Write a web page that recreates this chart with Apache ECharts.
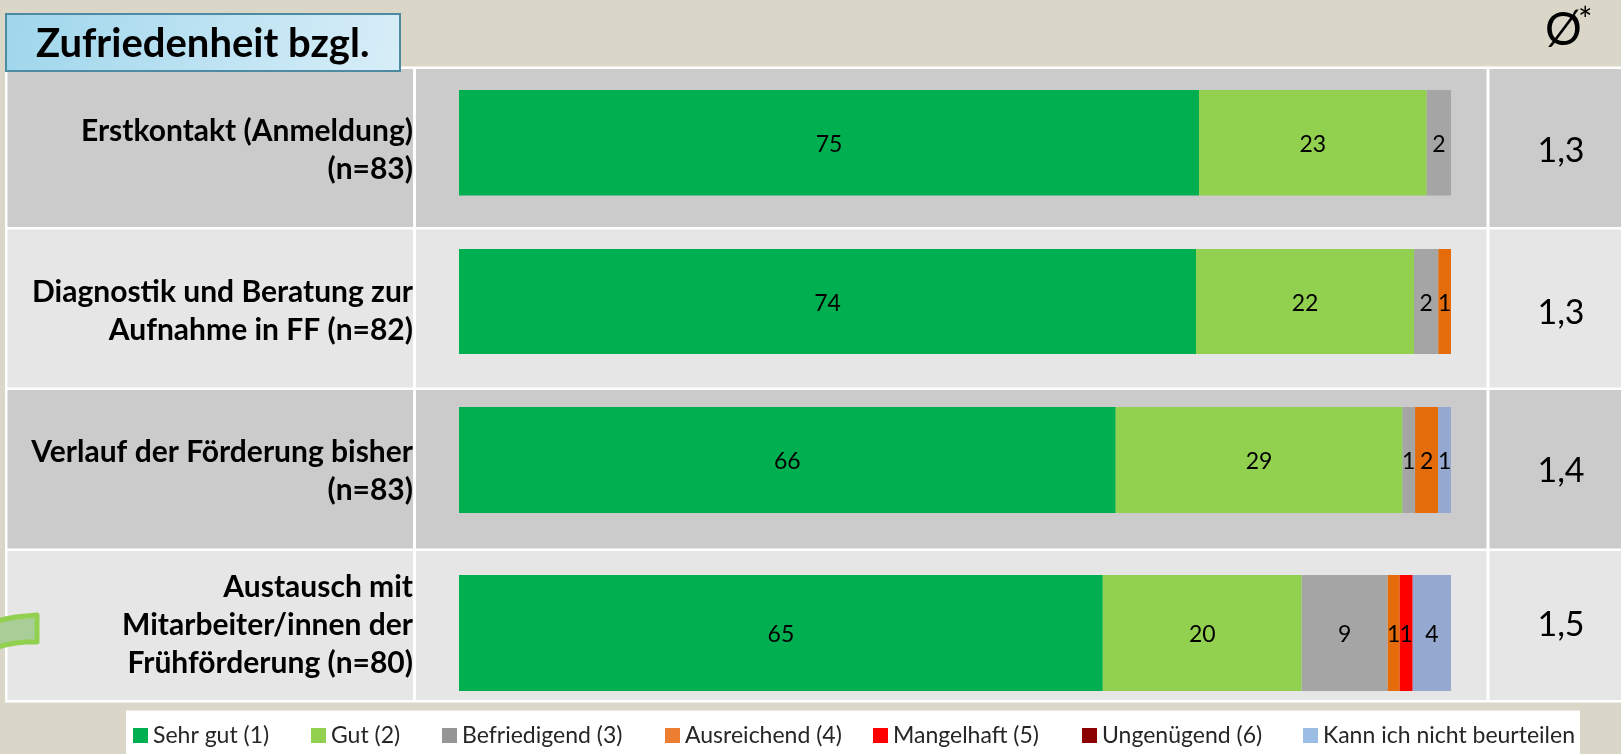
<!DOCTYPE html>
<html lang="de">
<head>
<meta charset="utf-8">
<title>Zufriedenheit bzgl.</title>
<style>html,body{margin:0;padding:0;background:#dad7c9}#chart{width:1621px;height:754px}</style>
<script src="https://cdn.jsdelivr.net/npm/echarts@6/dist/echarts.min.js"></script>
</head>
<body>
<div id="chart"></div>
<script>
// --- data ---
const categories = [
  'Erstkontakt (Anmeldung)\n(n=83)',
  'Diagnostik und Beratung zur\nAufnahme in FF (n=82)',
  'Verlauf der Förderung bisher\n(n=83)',
  'Austausch mit\nMitarbeiter/innen der\nFrühförderung (n=80)'
];
const averages = ['1,3', '1,3', '1,4', '1,5'];
const sehrGut      = [74.6, 74.3, 66.2, 64.9];
const gut          = [22.95, 21.97, 28.9, 20.05];
const befriedigend = [2.45, 2.45, 1.28, 8.67];
const ausreichend  = [null, 1.28, 2.32, 1.21];
const mangelhaft   = [null, null, null, 1.31];
const ungenuegend  = [null, null, null, null];
const kannNicht    = [null, null, 1.31, 3.86];

const seriesDefs = [
  {name: 'Sehr gut (1)', values: sehrGut, color: '#00b050', legendColor: '#00b050', legendX: 133},
  {name: 'Gut (2)', values: gut, color: '#92d050', legendColor: '#92d050', legendX: 311},
  {name: 'Befriedigend (3)', values: befriedigend, color: '#a5a5a5', legendColor: '#959595', legendX: 442},
  {name: 'Ausreichend (4)', values: ausreichend, color: '#e46c0a', legendColor: '#ed7d31', legendX: 665},
  {name: 'Mangelhaft (5)', values: mangelhaft, color: '#ff0000', legendColor: '#ff0000', legendX: 873},
  {name: 'Ungenügend (6)', values: ungenuegend, color: '#8b0000', legendColor: '#8b0000', legendX: 1082},
  {name: 'Kann ich nicht beurteilen', values: kannNicht, color: '#95a9d0', legendColor: '#9bbde3', legendX: 1303}
];

// --- layout ---
const FONT = 'Lato, "Noto Sans", sans-serif';
const barLeft = 459, barWidth = 992;
const LINE = 38;
const barRows = [{top: 90, h: 105.5, labelShift: 8}, {top: 249, h: 105, labelShift: 10},
                 {top: 407, h: 106, labelShift: 11}, {top: 575, h: 116, labelShift: -8}];
const cellRows = [[69, 227], [229.5, 387.5], [390, 548.5], [551, 700]];
const columns = [[7.5, 413], [416, 1486.5], [1489.5, 1621]];
const avgY = [151, 313, 471, 625];
const rowFill = ['#cbcbcb', '#e6e6e6', '#cbcbcb', '#e6e6e6'];

const graphics = [
  {type: 'rect', z: -10, shape: {x: 5, y: 66.5, width: 1616, height: 636}, style: {fill: '#ffffff'}},
  {type: 'rect', z: -9, shape: {x: 126, y: 710.5, width: 1454, height: 44}, style: {fill: '#ffffff'}}
];
cellRows.forEach((r, i) => columns.forEach(c => graphics.push({
  type: 'rect', z: -8,
  shape: {x: c[0], y: r[0], width: c[1] - c[0], height: r[1] - r[0]},
  style: {fill: rowFill[i]}
})));
graphics.push(
  {type: 'polygon', z: 5,
   shape: {points: [[-6, 622], [5, 619], [16, 617], [26, 616], [37, 615], [37, 642], [26, 642], [16, 643], [5, 645], [-6, 648]]},
   style: {fill: '#a9cd97', stroke: '#92d050', lineWidth: 5, lineJoin: 'round'}},
  {type: 'rect', z: 20, shape: {x: 6, y: 14, width: 394, height: 57},
   style: {
     fill: {type: 'linear', x: 0, y: 0, x2: 1, y2: 1,
            colorStops: [{offset: 0, color: '#9fd6ec'}, {offset: 1, color: '#d8eef8'}]},
     stroke: '#4f8aa3', lineWidth: 2
   }},
  {type: 'text', z: 21, x: 36, y: 44,
   style: {text: 'Zufriedenheit bzgl.', font: 'bold 40px ' + FONT, fill: '#000',
           textAlign: 'left', textVerticalAlign: 'middle'}},
  {type: 'text', z: 21, x: 1545, y: 30,
   style: {text: 'Ø', font: '46px ' + FONT, fill: '#000', textAlign: 'left', textVerticalAlign: 'middle'}},
  {type: 'text', z: 21, x: 1578, y: 21,
   style: {text: '*', font: '34px ' + FONT, fill: '#000', textAlign: 'left', textVerticalAlign: 'middle'}}
);
averages.forEach((t, i) => graphics.push({
  type: 'text', z: 21, x: 1561, y: avgY[i],
  style: {text: t, font: '34px ' + FONT, fill: '#000', textAlign: 'center', textVerticalAlign: 'middle'}
}));

const grids = [], xAxes = [], yAxes = [], series = [];
categories.forEach((cat, i) => {
  const row = barRows[i];
  const lines = cat.split('\n').length;
  grids.push({left: barLeft, width: barWidth, top: row.top, height: row.h, containLabel: false});
  xAxes.push({type: 'value', gridIndex: i, min: 0, max: 100, show: false});
  yAxes.push({
    type: 'category', gridIndex: i, data: [cat], inverse: true,
    axisLine: {show: false}, axisTick: {show: false}, splitLine: {show: false},
    axisLabel: {
      margin: 46, color: '#000', fontFamily: FONT, fontWeight: 'bold', fontSize: 30, lineHeight: LINE,
      align: 'right', verticalAlign: 'top',
      padding: [row.labelShift - lines * LINE / 2, 0, 0, 0]
    }
  });
  seriesDefs.forEach(d => series.push({
    type: 'bar', name: d.name, stack: 'row' + i, xAxisIndex: i, yAxisIndex: i,
    barWidth: '100%', data: [d.values[i]],
    itemStyle: {color: d.color},
    label: {
      show: d.values[i] !== null, position: 'inside', offset: [0, 2], color: '#000', fontFamily: FONT, fontSize: 23,
      formatter: p => String(Math.round(p.value))
    },
    emphasis: {disabled: true}, animation: false
  }));
});

const legends = seriesDefs.map(d => ({
  left: d.legendX, top: 724, orient: 'horizontal', padding: 0,
  itemWidth: 15, itemHeight: 15, itemGap: 0, icon: 'rect',
  textStyle: {fontFamily: FONT, fontSize: 23, color: '#262626'},
  data: [{name: d.name, itemStyle: {color: d.legendColor}}]
}));

const chart = echarts.init(document.getElementById('chart'), null, {renderer: 'canvas'});
chart.setOption({
  backgroundColor: '#dad7c9', animation: false, tooltip: {show: false},
  grid: grids, xAxis: xAxes, yAxis: yAxes, series: series, legend: legends,
  graphic: {elements: graphics}
});
</script>
</body>
</html>
